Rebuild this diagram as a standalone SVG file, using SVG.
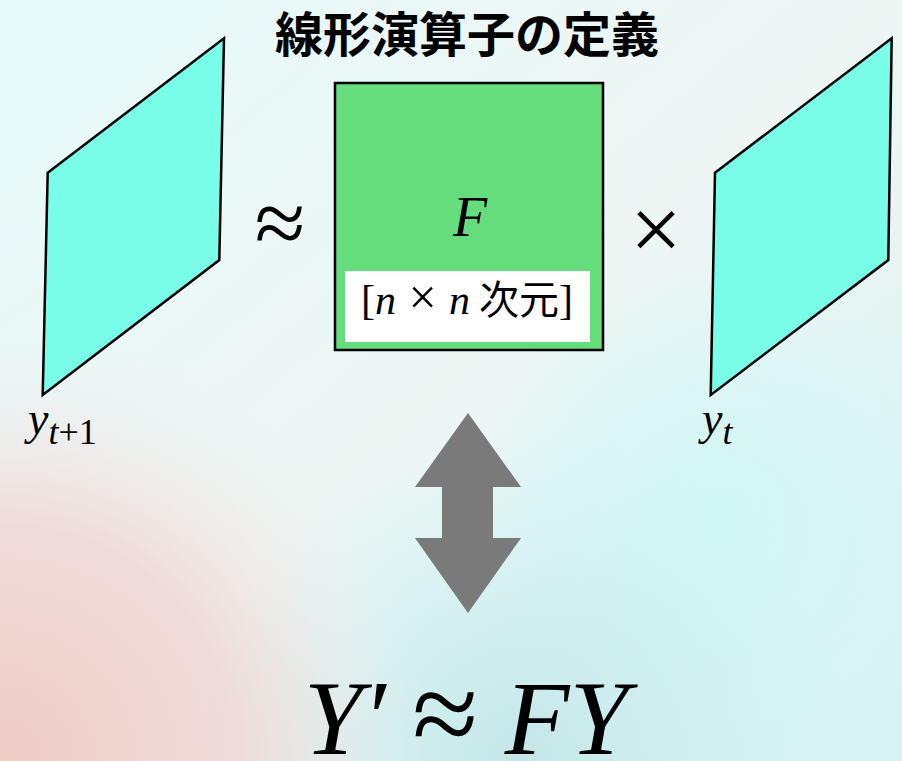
<svg xmlns="http://www.w3.org/2000/svg" width="902" height="761" viewBox="0 0 902 761">
<defs>
<linearGradient id="bgbase" x1="0" y1="0" x2="1" y2="1">
<stop offset="0" stop-color="#e6fafa"/>
<stop offset="0.5" stop-color="#eef6f4"/>
<stop offset="1" stop-color="#d6f2f2"/>
</linearGradient>
<radialGradient id="pink" cx="0" cy="761" r="430" gradientUnits="userSpaceOnUse">
<stop offset="0" stop-color="#efcbc6" stop-opacity="1"/>
<stop offset="0.55" stop-color="#f0d6d2" stop-opacity="0.8"/>
<stop offset="1" stop-color="#f0eeee" stop-opacity="0"/>
</radialGradient>
<radialGradient id="teal" cx="520" cy="760" r="330" gradientUnits="userSpaceOnUse">
<stop offset="0" stop-color="#c4e6e8" stop-opacity="1"/>
<stop offset="1" stop-color="#c8f2f2" stop-opacity="0"/>
</radialGradient>
<radialGradient id="cyanr" cx="720" cy="520" r="260" gradientUnits="userSpaceOnUse">
<stop offset="0" stop-color="#d0f6f6" stop-opacity="1"/>
<stop offset="1" stop-color="#d0f6f6" stop-opacity="0"/>
</radialGradient>
<style>
.plane{fill:#79fde9;stroke:#000;stroke-width:2.5;stroke-linejoin:miter}
.math{font-family:"Liberation Serif","Times New Roman",serif;font-style:italic;fill:#000}
.rm{font-family:"Liberation Serif","Times New Roman",serif;font-style:normal;fill:#000}
.cjk{font-family:"Noto Sans CJK JP","Noto Sans CJK SC",sans-serif;fill:#000}
</style>
</defs>
<g id="background">
<rect x="0" y="0" width="902" height="761" fill="url(#bgbase)"/>
<rect x="0" y="0" width="902" height="761" fill="url(#cyanr)"/>
<rect x="0" y="0" width="902" height="761" fill="url(#teal)"/>
<rect x="0" y="0" width="902" height="761" fill="url(#pink)"/>
</g>
<g id="title">
<text class="cjk" x="467" y="52" font-size="48" font-weight="bold" text-anchor="middle">線形演算子の定義</text>
</g>
<g id="y_t1">
<polygon class="plane" points="47.7,172.7 224,38.3 219.3,260 42.7,395"/>
<text class="math" x="28" y="434" font-size="46">y<tspan font-size="36" dy="10">t</tspan><tspan class="rm" font-size="36">+1</tspan></text>
</g>
<g id="approx1">
<text class="rm" x="280" y="254" font-size="92" text-anchor="middle">≈</text>
</g>
<g id="F">
<rect x="335" y="83" width="268" height="267" fill="#66dd7d" stroke="#000" stroke-width="2.5"/>
<text class="math" x="470" y="236" font-size="56" text-anchor="middle">F</text>
<rect x="345" y="271" width="245" height="71" fill="#ffffff"/>
<text x="467" y="314" font-size="42" text-anchor="middle"><tspan class="rm">[</tspan><tspan class="math">n</tspan><tspan class="rm" font-size="50"> × </tspan><tspan class="math">n</tspan><tspan class="cjk" font-size="40"> 次元</tspan><tspan class="rm">]</tspan></text>
</g>
<g id="times">
<text class="rm" x="656" y="260" font-size="92" text-anchor="middle">×</text>
</g>
<g id="y_t">
<polygon class="plane" points="715,172.7 891.7,38.3 888.3,260 710.7,395"/>
<text class="math" x="702" y="434" font-size="46">y<tspan font-size="36" dy="10">t</tspan></text>
</g>
<g id="connectors">
<polygon points="468,413 521,487 493,487 493,538 521,538 468,613 415,538 442,538 442,487 415,487" fill="#7a7a7a"/>
</g>
<g id="equation">
<text class="math" x="466" y="754" font-size="106" text-anchor="middle">Y′ <tspan class="rm" font-size="120">≈</tspan> FY</text>
</g>
</svg>
